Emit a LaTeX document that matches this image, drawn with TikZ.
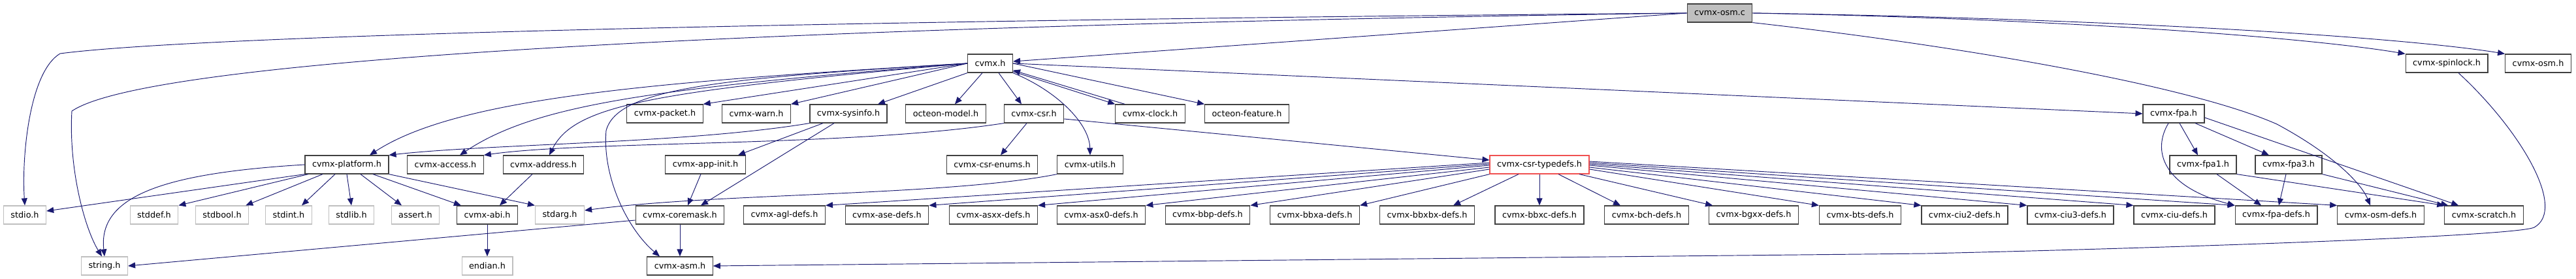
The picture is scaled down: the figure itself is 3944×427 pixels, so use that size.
\documentclass[tikz,border=0pt]{standalone}
\usepackage{fontspec}
\setmainfont{DejaVu Sans}
\usetikzlibrary{arrows.meta}
\definecolor{edgeblue}{HTML}{191970}
\definecolor{boxgrey}{HTML}{404040}
\definecolor{sysgrey}{HTML}{BFBFBF}
\definecolor{truncred}{HTML}{F05050}
\begin{document}
\begin{tikzpicture}[x=1pt,y=-1pt,
  hfile/.style={draw=boxgrey,line width=1.2pt,fill=white,inner xsep=11pt,inner ysep=0pt,
    minimum height=28pt,font=\fontsize{12.8}{15}\selectfont},
  sysfile/.style={hfile,draw=sysgrey},
  dep/.style={draw=edgeblue,line width=0.95pt,-{Triangle[length=11pt,width=9pt]}}]
  \useasboundingbox (0,0) rectangle (3944,427);
  % rows: 20, 97, 174, 252, 329, 407
  \node[hfile,fill=sysgrey] (osmc) at (2633,20) {cvmx-osm.c};
  \node[hfile] (cvmx) at (1516,97) {cvmx.h};
  \node[hfile] (spinlock) at (3746,97) {cvmx-spinlock.h};
  \node[hfile] (osmh) at (3886,97) {cvmx-osm.h};
  \node[hfile] (packet) at (1018,174) {cvmx-packet.h};
  \node[hfile] (warn) at (1158,174) {cvmx-warn.h};
  \node[hfile] (sysinfo) at (1299,174) {cvmx-sysinfo.h};
  \node[hfile] (model) at (1448,174) {octeon-model.h};
  \node[hfile] (csr) at (1583,174) {cvmx-csr.h};
  \node[hfile] (clock) at (1761,174) {cvmx-clock.h};
  \node[hfile] (feature) at (1909,174) {octeon-feature.h};
  \node[hfile] (fpa) at (3328,174) {cvmx-fpa.h};
  \node[hfile] (platform) at (531,252) {cvmx-platform.h};
  \node[hfile] (access) at (682,252) {cvmx-access.h};
  \node[hfile] (address) at (832,252) {cvmx-address.h};
  \node[hfile] (appinit) at (1080,252) {cvmx-app-init.h};
  \node[hfile] (enums) at (1519,252) {cvmx-csr-enums.h};
  \node[hfile] (utils) at (1669,252) {cvmx-utils.h};
  \node[hfile,draw=truncred] (typedefs) at (2357,252) {cvmx-csr-typedefs.h};
  \node[hfile] (fpa1) at (3373,252) {cvmx-fpa1.h};
  \node[hfile] (fpa3) at (3504,252) {cvmx-fpa3.h};
  \foreach \n/\x/\lab in {stdio/38/stdio.h,stddef/236/stddef.h,stdbool/340/stdbool.h,
      stdint/442/stdint.h,stdlib/538/stdlib.h,assert/636/assert.h,stdarg/857/stdarg.h}
    \node[sysfile] (\n) at (\x,329) {\lab};
  \foreach \n/\x/\lab in {abi/746/cvmx-abi.h,coremask/1041/cvmx-coremask.h,
      agl/1201/cvmx-agl-defs.h,ase/1358/cvmx-ase-defs.h,asxx/1521/cvmx-asxx-defs.h,
      asx0/1686/cvmx-asx0-defs.h,bbp/1849/cvmx-bbp-defs.h,bbxa/2013/cvmx-bbxa-defs.h,
      bbxbx/2185/cvmx-bbxbx-defs.h,bbxc/2357/cvmx-bbxc-defs.h,bch/2521/cvmx-bch-defs.h,
      bgxx/2685/cvmx-bgxx-defs.h,bts/2848/cvmx-bts-defs.h,ciu2/3008/cvmx-ciu2-defs.h,
      ciu3/3170/cvmx-ciu3-defs.h,ciu/3329/cvmx-ciu-defs.h,fpadefs/3485/cvmx-fpa-defs.h,
      osmdefs/3645/cvmx-osm-defs.h,scratch/3803/cvmx-scratch.h}
    \node[hfile] (\n) at (\x,329) {\lab};
  \node[sysfile] (string) at (160,407) {string.h};
  \node[sysfile] (endian) at (746,407) {endian.h};
  \node[hfile] (asm) at (1041,407) {cvmx-asm.h};
  % cvmx-osm.c
  \draw[dep] (osmc.west) .. controls (1200,32) and (300,55) .. (92,82)
    .. controls (45,110) and (33,240) .. (stdio.north);
  \draw[dep] (osmc.west) .. controls (1500,35) and (250,75) .. (110,170)
    .. controls (105,260) and (130,350) .. ([xshift=-4pt]string.north);
  \draw[dep] (osmc.west) -- ([yshift=3pt]cvmx.east);
  \draw[dep] (osmc.east) .. controls (3200,30) and (3550,60) .. (spinlock.north west);
  \draw[dep] (osmc.east) .. controls (3300,30) and (3700,60) .. (osmh.north west);
  \draw[dep] (osmc.south east) .. controls (3000,70) and (3350,130) .. (3486,190)
    .. controls (3570,235) and (3615,280) .. ([xshift=-16pt]osmdefs.north);
  % cvmx.h
  \draw[dep] (cvmx.west) .. controls (1000,125) and (700,150) .. ([xshift=35pt]platform.north);
  \draw[dep] (cvmx.west) .. controls (1000,135) and (820,160) .. ([xshift=22pt]access.north);
  \draw[dep] (cvmx.west) .. controls (1000,140) and (880,160) .. ([xshift=9pt]address.north);
  \draw[dep] (cvmx.west) .. controls (1100,120) and (945,135) .. (928,200)
    .. controls (922,270) and (960,350) .. ([xshift=-31pt]asm.north);
  \draw[dep] (cvmx.west) -- (packet.north east);
  \draw[dep] (cvmx.west) -- (warn.north east);
  \draw[dep] (cvmx.south west) -- ([xshift=45pt]sysinfo.north);
  \draw[dep] ([xshift=-12pt]cvmx.south) -- ([xshift=14pt]model.north);
  \draw[dep] ([xshift=13pt]cvmx.south) -- ([xshift=-19pt]csr.north);
  \draw[dep] ([yshift=2pt]cvmx.south east) -- (clock.north west);
  \draw[dep] ([xshift=15pt]clock.north west) -- ([yshift=4pt]cvmx.south east);
  \draw[dep] (cvmx.east) -- (feature.north west);
  \draw[dep] (cvmx.south east) .. controls (1620,140) and (1668,190) .. (utils.north);
  \draw[dep] (cvmx.east) -- (fpa.west);
  % cvmx-platform.h
  \draw[dep] (platform.south west) -- ([yshift=6pt]stdio.east);
  \draw[dep] (platform.west) .. controls (250,265) and (150,300) .. (string.north);
  \draw[dep] ([xshift=-59pt]platform.south) -- (stddef.north east);
  \draw[dep] ([xshift=-37pt]platform.south) -- ([xshift=-5pt]stdbool.north east);
  \draw[dep] ([xshift=-18pt]platform.south) -- ([xshift=20pt]stdint.north);
  \draw[dep] (platform.south) -- (stdlib.north);
  \draw[dep] ([xshift=21pt]platform.south) -- ([xshift=-21pt]assert.north);
  \draw[dep] ([xshift=40pt]platform.south) -- ([xshift=7pt]abi.north west);
  \draw[dep] (platform.south east) -- (stdarg.north west);
  \draw[dep] ([xshift=-17pt]address.south) -- ([xshift=19pt]abi.north);
  \draw[dep] (abi) -- (endian);
  % cvmx-sysinfo.h, cvmx-csr.h, cvmx-utils.h
  \draw[dep] (sysinfo.south west) .. controls (1050,220) and (750,220) .. (platform.north east);
  \draw[dep] (csr.south west) .. controls (1300,225) and (900,215) .. (access.north east);
  \draw[dep] ([xshift=-39pt]sysinfo.south) -- ([xshift=50pt]appinit.north);
  \draw[dep] ([xshift=-22pt]sysinfo.south) -- ([xshift=32pt]coremask.north);
  \draw[dep] ([xshift=-7pt]appinit.south) -- ([xshift=12pt]coremask.north);
  \draw[dep] (coremask) -- (asm);
  \draw[dep] ([yshift=-8pt]coremask.west) -- (string.east);
  \draw[dep] ([xshift=-11pt]csr.south) -- ([xshift=13pt]enums.north);
  \draw[dep] ([yshift=-8pt]csr.east) -- ([yshift=7pt]typedefs.west);
  \draw[dep] (utils.south west) .. controls (1450,300) and (1100,295) .. ([yshift=7pt]stdarg.east);
  % cvmx-csr-typedefs.h
  \foreach \t/\dy in {agl/3,ase/1,asxx/-1,asx0/-4,bbp/-7}
    \draw[dep] ([yshift=\dy pt]typedefs.west) -- (\t.north east);
  \draw[dep] (typedefs.south west) -- (bbxa.north east);
  \draw[dep] ([xshift=-32pt]typedefs.south) -- ([xshift=40pt]bbxbx.north);
  \draw[dep] (typedefs) -- (bbxc);
  \draw[dep] ([xshift=29pt]typedefs.south) -- ([xshift=-40pt]bch.north);
  \draw[dep] ([xshift=61pt]typedefs.south) -- ([xshift=6pt]bgxx.north west);
  \foreach \t/\dy in {bts/-7,ciu2/-4,ciu3/-1,ciu/1,fpadefs/3,osmdefs/5}
    \draw[dep] ([yshift=\dy pt]typedefs.east) -- (\t.north west);
  % cvmx-fpa.h
  \draw[dep] ([xshift=-8pt]fpa.south) .. controls (3295,230) and (3310,285) .. (fpadefs.north west);
  \draw[dep] ([xshift=9pt]fpa.south) -- ([xshift=-8pt]fpa1.north);
  \draw[dep] ([xshift=33pt]fpa.south) -- ([xshift=-30pt]fpa3.north);
  \draw[dep] ([yshift=-6pt]fpa.east) -- ([xshift=22pt]scratch.north west);
  \draw[dep] ([xshift=21pt]fpa1.south) -- ([xshift=-23pt]fpadefs.north);
  \draw[dep] (fpa1.south east) -- (scratch.north west);
  \draw[dep] ([xshift=-4pt]fpa3.south) -- ([xshift=4pt]fpadefs.north);
  \draw[dep] (fpa3.south east) -- ([xshift=6pt]scratch.north west);
  % cvmx-spinlock.h
  \draw[dep] ([xshift=18pt]spinlock.south) .. controls (3860,200) and (3930,320) .. (3880,348)
    .. controls (3850,362) and (3300,380) .. (2950,388) -- (asm.east);
\end{tikzpicture}
\end{document}
